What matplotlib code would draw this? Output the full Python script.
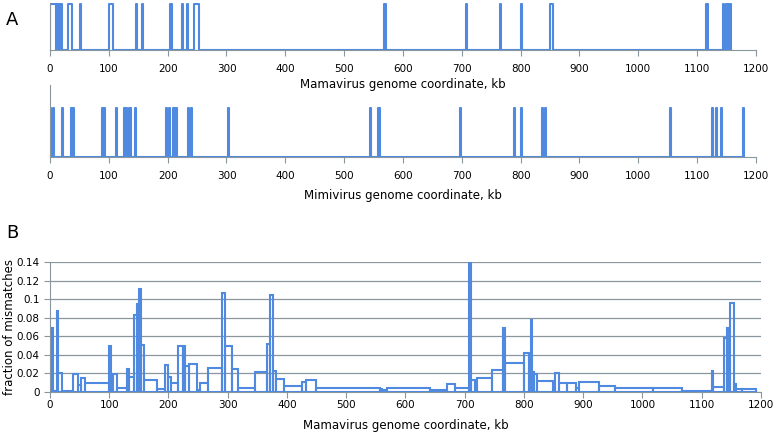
import matplotlib
matplotlib.use('Agg')
import matplotlib.pyplot as plt
from matplotlib.ticker import FuncFormatter

blue = '#4f8ae0'
grey = '#8a969e'

# A: regions (kb) marked in each genome
mama_starts = [0, 12, 14, 16, 18, 31, 50.5, 101, 146.5, 157, 203.5, 225, 233.5, 245,
               567.5, 707.5, 765.5, 800.5, 849.5, 1115, 1144, 1148.5, 1152, 1155]
mama_ends = [11, 13, 15, 17, 20, 37, 52, 107.5, 148, 158.5, 207, 226.5, 235, 253,
             570.5, 709, 767, 802, 855.5, 1119, 1145.5, 1151, 1154, 1157.5]
mama_len = 1157.6

mimi_starts = [0, 4.5, 21, 35.5, 39, 88, 92, 112.5, 126, 129.5, 135, 144.5, 198, 202.5,
               208.5, 211.5, 214.5, 235, 239.5, 302, 543.5, 557, 696.5, 789.5, 801,
               836.5, 842, 1053.5, 1125.5, 1132.5, 1141.5, 1178]
mimi_ends = [1.5, 6, 22.5, 37, 40.5, 89.5, 93.5, 114, 127.5, 131, 137, 147, 199.5, 204,
             210, 213, 216, 236.5, 241, 305, 545, 561, 698, 791, 802.5,
             838, 844, 1055, 1127, 1134, 1143, 1179.5]
mimi_len = 1180

# B: window edges along mamavirus genome (kb) and mismatch fraction per window
win_edges = [2.8, 4.5, 12.4, 14, 19.7, 38.3, 47.8, 52.3, 59, 100, 103, 107, 112.5,
             129.4, 132.8, 141.8, 147.4, 149.5, 154, 158.7, 180, 194, 198.6, 205, 216.6,
             224, 227.8, 234.6, 247.5, 253, 267, 289.7, 295.4, 306.6, 317.9, 346, 365.7,
             371.3, 377, 381.4, 395, 424.8, 432, 449, 557, 560, 568, 641, 669.5, 683.6,
             707.8, 710.5, 717.3, 721.3, 745.5, 765, 768.5, 800, 809, 811, 813, 817,
             822.5, 848.4, 852.4, 859.7, 872, 888, 893.5, 927.3, 953.6, 1018, 1066,
             1116.7, 1119.5, 1137.5, 1142, 1144.8, 1147.7, 1154.4, 1157.8, 1167.3, 1192]
mismatch = [0.069, 0.001, 0.087, 0.02, 0.001, 0.019, 0.007, 0.015, 0.0096, 0.05, 0.002,
            0.019, 0.004, 0.025, 0.016, 0.083, 0.095, 0.111, 0.051, 0.0124, 0.003, 0.029,
            0.016, 0.0096, 0.05, 0.049, 0.028, 0.03, 0.002, 0.0096, 0.0256, 0.107, 0.05,
            0.0245, 0.004, 0.0217, 0.0515, 0.104, 0.0224, 0.0135, 0.006, 0.0107, 0.0124,
            0.0046, 0.0036, 0.002, 0.0046, 0.0018, 0.0089, 0.004, 0.14, 0.0124, 0.006,
            0.015, 0.024, 0.069, 0.031, 0.0416, 0.04, 0.078, 0.022, 0.019, 0.0117, 0.0036,
            0.02, 0.0096, 0.0096, 0.004, 0.011, 0.0066, 0.0046, 0.0046, 0.0013, 0.0225,
            0.0053, 0.058, 0.069, 0.033, 0.096, 0.009, 0.003, 0.003]

xticks = list(range(0, 1201, 100))


def pulses(starts, ends, total):
    xs, ys = [0], [0]
    for s, e in zip(starts, ends):
        xs += [s, s, e, e]
        ys += [0, 1, 1, 0]
    xs.append(total)
    ys.append(0)
    return xs, ys


def style_axis(ax, pad=6):
    for side in ['top', 'right']:
        ax.spines[side].set_visible(False)
    for side in ['left', 'bottom']:
        ax.spines[side].set_color(grey)
    ax.set_facecolor('none')
    ax.set_xlim(0, 1200)
    ax.set_xticks(xticks)
    ax.tick_params(axis='x', direction='out', length=4, color=grey, labelsize=7.5, pad=pad)
    ax.tick_params(axis='y', length=0)


fig = plt.figure(figsize=(7.74, 4.32), dpi=100)

ax1 = fig.add_axes([0.0646, 0.884, 0.912, 0.108])
x, y = pulses(mama_starts, mama_ends, mama_len)
ax1.plot(x, y, color=blue, lw=1.5)
ax1.set_ylim(0, 1.02)
ax1.set_yticks([])
style_axis(ax1)
ax1.set_xlabel('Mamavirus genome coordinate, kb', fontsize=8.5, labelpad=3)

ax2 = fig.add_axes([0.0646, 0.637, 0.912, 0.166])
x, y = pulses(mimi_starts, mimi_ends, mimi_len)
ax2.plot(x, y, color=blue, lw=1.5)
ax2.set_ylim(0, 1.47)
ax2.set_yticks([])
style_axis(ax2)
ax2.set_xlabel('Mimivirus genome coordinate, kb', fontsize=8.5, labelpad=6)

ax3 = fig.add_axes([0.0646, 0.0926, 0.9186, 0.301])
lefts = win_edges[:-1]
widths = [e - s for s, e in zip(win_edges[:-1], win_edges[1:])]
ax3.bar(lefts, mismatch, width=widths, align='edge', fill=False,
        edgecolor=blue, linewidth=1.5, zorder=3)
style_axis(ax3, pad=1.5)
ax3.set_ylim(0, 0.14)
ax3.set_yticks([0, 0.02, 0.04, 0.06, 0.08, 0.1, 0.12, 0.14])
ax3.yaxis.set_major_formatter(FuncFormatter(lambda v, p: '{:g}'.format(round(v, 2))))
ax3.tick_params(axis='y', labelsize=7.5, length=4, color=grey)
ax3.grid(axis='y', color=grey, lw=0.9)
ax3.set_axisbelow(True)
ax3.set_xlabel('Mamavirus genome coordinate, kb', fontsize=8.5, labelpad=7)
ax3.set_ylabel('fraction of mismatches', fontsize=8.5, labelpad=0)

fig.text(0.008, 0.954, 'A', fontsize=13, va='center')
fig.text(0.008, 0.461, 'B', fontsize=13, va='center')

fig.savefig('out.png', dpi=100)
